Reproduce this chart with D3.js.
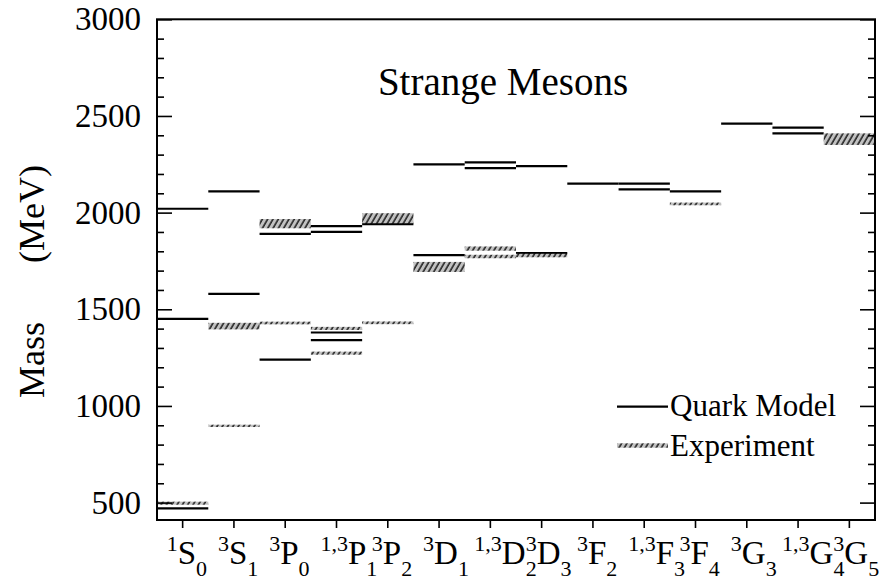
<!DOCTYPE html>
<html><head><meta charset="utf-8">
<script src="https://cdn.jsdelivr.net/npm/d3@7"></script>
<style>
body{margin:0;background:#fff}
svg{display:block}
text{font-family:"Liberation Serif","Times New Roman",serif;fill:#000}
</style>
</head><body>
<svg id="chart" width="886" height="582"></svg>
<script>
// ---- data ----
const labelSup  = ["1","3","3","1,3","3","3","1,3","3","3","1,3","3","3","1,3","3"];
const labelMain = ["S","S","P","P","P","D","D","D","F","F","F","G","G","G"];
const labelSub  = ["0","1","0","1","2","1","2","3","2","3","4","3","4","5"];
// quark model masses (MeV) per column
const quarkModel = [
  [470,1450,2020],
  [1580,2110],
  [1240,1890],
  [1340,1380,1900,1930],
  [1940],
  [1780,2250],
  [2230,2260],
  [1790,2240],
  [2150],
  [2120,2150],
  [2110],
  [2460],
  [2410,2440],
  []
];
// experimental masses: [central value, half width] per column
const experiment = [
  [[497,8]],
  [[897,6],[1413,17]],
  [[1429,7],[1943,24]],
  [[1273,8],[1401,8]],
  [[1430,7],[1971,26]],
  [[1719,26]],
  [[1773,9],[1814,11]],
  [[1778,9]],
  [],
  [],
  [[2045,7]],
  [],
  [],
  [[2380,30]]
];
const yMajor = [500,1000,1500,2000,2500,3000];
const yMinor = d3.range(500,3001,100).filter(v => v % 500 !== 0);
const titleText = "Strange Mesons";
const legendLabels = ["Quark Model","Experiment"];

// ---- layout ----
const svg = d3.select("#chart");
const L = 157, R = 875, T = 19.3, B = 520;
const x = d3.scaleBand().domain(d3.range(labelMain.length)).range([L, R]);
const y = d3.scaleLinear().domain([410, 3000]).range([B, T]);

const defs = svg.append("defs");
const pat = defs.append("pattern").attr("id","hatch")
  .attr("patternUnits","userSpaceOnUse").attr("width",4.6).attr("height",8)
  .attr("patternTransform","rotate(30)");
pat.append("rect").attr("width",4.6).attr("height",8).attr("fill","#c2c2c2");
pat.append("line").attr("x1",1).attr("x2",1).attr("y1",0).attr("y2",8)
  .attr("stroke","#000").attr("stroke-width",1.3);

// quark model lines
const qm = [];
quarkModel.forEach((arr,i) => arr.forEach(v => qm.push({i, v})));
svg.append("g").selectAll("line").data(qm).join("line")
  .attr("x1", d => x(d.i)).attr("x2", d => x(d.i) + x.bandwidth())
  .attr("y1", d => y(d.v)).attr("y2", d => y(d.v))
  .attr("stroke","#000").attr("stroke-width",2.2);

// experiment boxes
const ex = [];
experiment.forEach((arr,i) => arr.forEach(d => ex.push({i, m:d[0], w:d[1]})));
svg.append("g").selectAll("rect").data(ex).join("rect")
  .attr("x", d => x(d.i)).attr("width", x.bandwidth())
  .attr("y", d => y(d.m + d.w)).attr("height", d => y(d.m - d.w) - y(d.m + d.w))
  .attr("fill","url(#hatch)");

// axes
function clean(g){ g.select(".domain").remove(); g.selectAll("line").attr("stroke","#000").attr("stroke-width",1.6); }
svg.append("g").attr("transform",`translate(${L},0)`)
  .call(d3.axisLeft(y).tickValues(yMajor).tickSize(-15).tickPadding(16).tickFormat(d3.format("d")))
  .call(clean)
  .call(g => g.selectAll("text").attr("font-size",33));
svg.append("g").attr("transform",`translate(${L},0)`)
  .call(d3.axisLeft(y).tickValues(yMinor).tickSize(-7).tickFormat(""))
  .call(clean);
svg.append("g").attr("transform",`translate(${R},0)`)
  .call(d3.axisRight(y).tickValues(yMajor).tickSize(-15).tickFormat(""))
  .call(clean);
svg.append("g").attr("transform",`translate(${R},0)`)
  .call(d3.axisRight(y).tickValues(yMinor).tickSize(-7).tickFormat(""))
  .call(clean);
svg.append("g").attr("transform",`translate(0,${B})`)
  .call(d3.axisBottom(x).tickSize(8).tickFormat(""))
  .call(clean);

// frame
svg.append("rect").attr("x",L).attr("y",T).attr("width",R-L).attr("height",B-T)
  .attr("fill","none").attr("stroke","#000").attr("stroke-width",2);

// x labels
const xl = svg.append("g").selectAll("text").data(labelMain).join("text")
  .attr("x",(d,i) => x(i) + x.bandwidth()/2 - 16).attr("y",551);
xl.append("tspan").attr("font-size",22).text((d,i) => labelSup[i]);
xl.append("tspan").attr("font-size",33).attr("dy",13).text(d => d);
xl.append("tspan").attr("font-size",22).attr("dy",12).text((d,i) => labelSub[i]);

// y label
svg.append("text").attr("transform","translate(44,360) rotate(-90)")
  .attr("text-anchor","middle").attr("font-size",36).text("Mass");
svg.append("text").attr("transform","translate(44,214) rotate(-90)")
  .attr("text-anchor","middle").attr("font-size",36).text("(MeV)");

// title
svg.append("text").attr("x",503).attr("y",95).attr("text-anchor","middle")
  .attr("font-size",39).text(titleText);

// legend
const lg = svg.append("g");
lg.append("line").attr("x1",617).attr("x2",668).attr("y1",406.7).attr("y2",406.7)
  .attr("stroke","#000").attr("stroke-width",2.2);
lg.append("rect").attr("x",617).attr("width",51).attr("y",443.3).attr("height",4.4)
  .attr("fill","url(#hatch)");
lg.append("text").attr("x",670).attr("y",416).attr("font-size",31).text(legendLabels[0]);
lg.append("text").attr("x",670).attr("y",456).attr("font-size",31).text(legendLabels[1]);
</script>
</body></html>
